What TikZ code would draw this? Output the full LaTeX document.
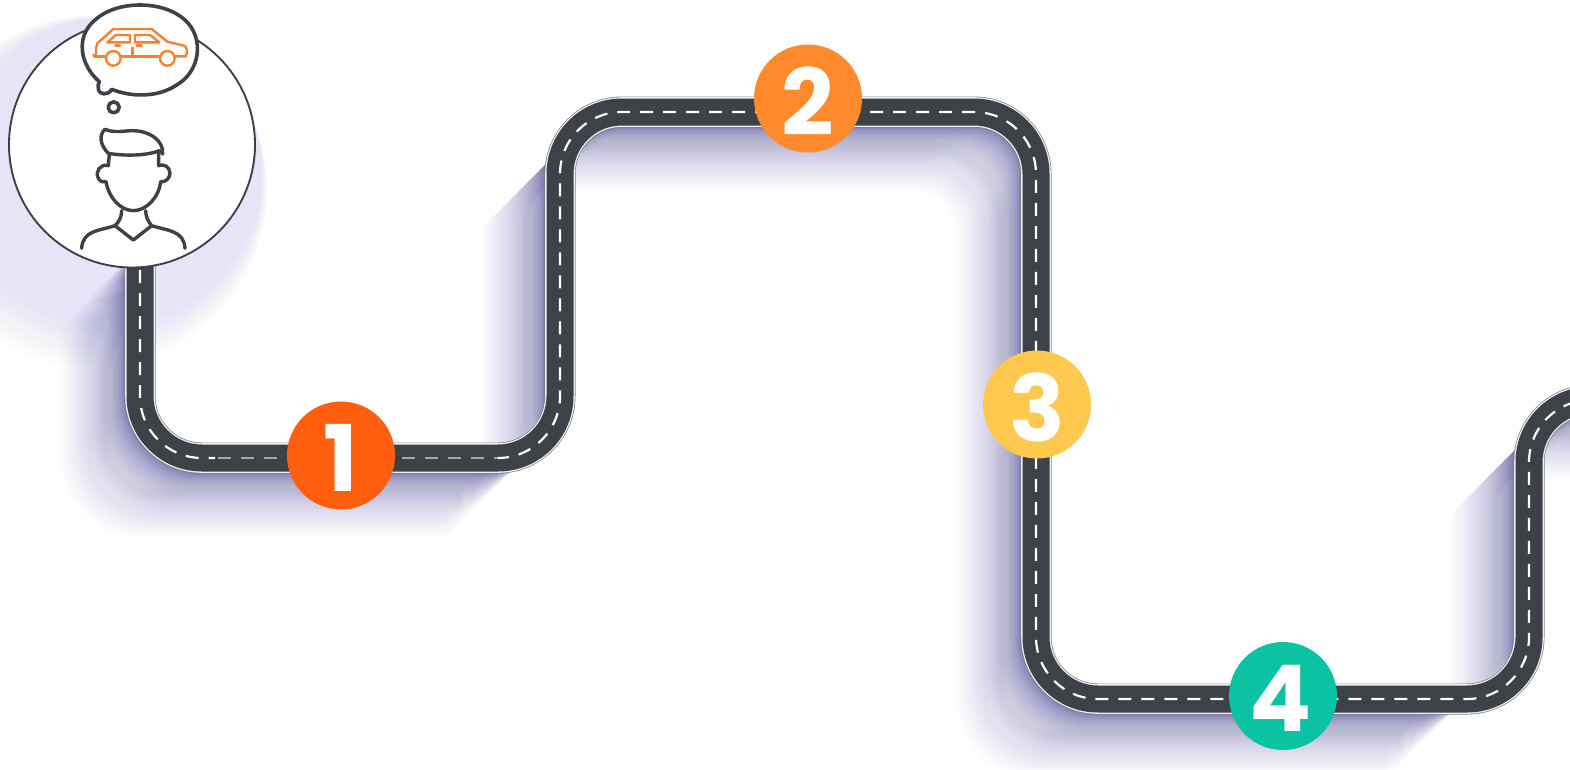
\documentclass[tikz,border=0pt]{standalone}
\usepackage{fontspec}
\setmainfont{Poppins}
\definecolor{roadc}{HTML}{3C4248}
\definecolor{shadc}{HTML}{5A5598}
\definecolor{shadl}{HTML}{C9C7E8}
\definecolor{haloc}{HTML}{E6E4F7}
\definecolor{caro}{HTML}{F58233}
\tikzset{
  stepcircle/.style={circle,minimum size=108pt,inner sep=0pt,text=white,font=\fontsize{92}{92}\selectfont\bfseries},
  steptext/.style={text=white,inner sep=0pt,font=\fontsize{92}{92}\selectfont\bfseries},
  shadowlayer/.style={line width=30pt,line cap=butt,rounded corners=62pt},
  roadedge/.style={line width=31pt,color=black!50,rounded corners=62pt},
  roadwhite/.style={line width=29.6pt,color=black!6,rounded corners=62pt},
  roadbody/.style={line width=27pt,color=roadc,rounded corners=62pt},
  lanedash/.style={line width=2.2pt,white,dash pattern=on 13pt off 10pt,rounded corners=62pt},
  lanegray/.style={line width=2pt,black!35,dash pattern=on 13pt off 10pt},
  iconline/.style={line width=3.4pt,color=roadc,line cap=round,line join=round},
  carline/.style={line width=2.4pt,color=caro,line join=round,line cap=round},
}
\newcommand{\roadpath}{(140,262)--(140,458)--(560,458)--(560,112)--(1036,112)--(1036,699)--(1529,699)--(1529,400)--(1640,400)}
\begin{document}
\begin{tikzpicture}[x=1pt,y=-1pt]
\useasboundingbox (0,0) rectangle (1570,769);
\clip (0,0) rectangle (1570,769);
\fill[white] (0,0) rectangle (1570,769);
% halo of the person circle
\foreach \i in {0,...,59}{
  \pgfmathsetmacro{\aa}{0.09*(\i/59)+0.02}
  \fill[haloc,opacity=\aa] ({132-(59-\i)*0.7},{145+(59-\i)*0.8}) circle ({123+(59-\i)*0.9});
}
% long shadows
\foreach \i in {60,59,...,1}{
  \pgfmathsetmacro{\dd}{64*(\i/60)^1.6}
  \pgfmathsetmacro{\aa}{0.05*(1-\i/60)+0.026}
  \pgfmathtruncatemacro{\mx}{100*(1-\i/60)^1.2}
  \colorlet{layerc}{shadc!\mx!shadl}
  \draw[shadowlayer,layerc,opacity=\aa,shift={(-\dd,\dd)}] (140,262)--(140,458)--(510,458);
  \begin{scope}
    \clip (710,0) -- (0,710) -- (0,2000) -- (2000,2000) -- (2000,0) -- cycle;
    \draw[shadowlayer,layerc,opacity=\aa,shift={(-\dd,\dd)}] (560,410)--(560,112)--(1036,112)--(1036,699)--(1450,699);
  \end{scope}
  \begin{scope}
    \clip (1965,0) -- (1000,965) -- (1000,2000) -- (2000,2000) -- (2000,0) -- cycle;
    \draw[shadowlayer,layerc,opacity=\aa,shift={(-\dd,\dd)}] (1529,650)--(1529,400)--(1640,400);
  \end{scope}
}
% road
\draw[roadedge] \roadpath;
\draw[roadwhite] \roadpath;
\draw[roadbody] \roadpath;
\draw[lanedash] (140,270)--(140,458)--(215,458);
\draw[lanegray] (218,458)--(500,458);
\draw[lanedash] (500,458)--(560,458)--(560,112)--(1036,112)--(1036,699)--(1529,699)--(1529,400)--(1640,400);
% numbered stops
\node[stepcircle,fill={rgb,255:red,255;green,95;blue,15}] (n1) at (341,455.5) {};
\node[stepcircle,fill={rgb,255:red,255;green,138;blue,46}] (n2) at (808,98.5) {};
\node[stepcircle,fill={rgb,255:red,255;green,200;blue,78}] (n3) at (1037,404.5) {};
\node[stepcircle,fill={rgb,255:red,11;green,194;blue,162}] (n4) at (1283,696) {};
\node[steptext] (t1) at (341,458) {1};
\node[steptext] (t2) at (808,101) {2};
\node[steptext] (t3) at (1037,407) {3};
\node[steptext] (t4) at (1281,698) {4};
% person circle
\fill[white,draw=roadc,line width=1.9pt] (132,144.5) circle (123);
% thought bubble
\begin{scope}[x=0.33333pt,y=-0.33333pt]
  \draw[iconline,fill=white,line width=3.6pt] (298,245)
    .. controls (240,195) and (225,110) .. (285,60)
    .. controls (350,0) and (490,0) .. (555,60)
    .. controls (615,115) and (600,215) .. (530,255)
    .. controls (470,295) and (390,290) .. (335,268)
    .. controls (325,288) and (295,285) .. (295,265)
    .. controls (292,258) and (296,252) .. (298,245) -- cycle;
  \draw[iconline,line width=3.6pt] (341,322) circle (16.5);
  % person
  \draw[iconline] (315,388) .. controls (296,405) and (300,435) .. (325,460)
     .. controls (370,468) and (440,468) .. (478,452);
  \draw[iconline] (315,388) .. controls (345,400) and (370,392) .. (400,392)
     .. controls (445,392) and (492,420) .. (488,462)
     .. controls (487,458) and (483,455) .. (478,452);
  \draw[iconline] (328,462) -- (325,497)
     .. controls (300,490) and (285,515) .. (295,535)
     .. controls (300,545) and (310,548) .. (318,545)
     .. controls (325,590) and (360,632) .. (400,632)
     .. controls (440,632) and (478,590) .. (482,545)
     .. controls (495,548) and (510,535) .. (510,520)
     .. controls (510,500) and (490,490) .. (476,497) -- (476,458);
  \draw[iconline] (365,632) .. controls (365,650) and (358,665) .. (345,677)
     .. controls (300,692) and (248,690) .. (245,745);
  \draw[iconline] (437,632) .. controls (437,650) and (445,665) .. (455,677)
     .. controls (500,692) and (552,690) .. (555,745);
  \draw[iconline] (345,677) -- (400,720) -- (455,677);
\end{scope}
% car
\begin{scope}[shift={(80,15)},x=0.33333pt,y=-0.33333pt]
  \draw[carline] (40,120) -- (48,120) -- (48,100) -- (52,85) -- (100,42) -- (215,42) -- (262,80) -- (312,92)
     .. controls (322,95) and (322,110) .. (318,124) -- (285,124);
  \draw[carline] (240,124) -- (122,124);
  \draw[carline] (78,124) -- (42,124);
  \draw[carline] (100,130) circle (22);
  \draw[carline] (262,130) circle (22);
  \draw[carline] (82,82) -- (108,60) -- (150,60) -- (150,82) -- cycle;
  \draw[carline] (165,60) -- (210,60) -- (238,82) -- (165,82) -- cycle;
  \draw[carline] (158,98) -- (158,124);
  \draw[carline] (106,92) -- (120,92);
  \draw[carline] (170,92) -- (185,92);
\end{scope}
\end{tikzpicture}
\end{document}
